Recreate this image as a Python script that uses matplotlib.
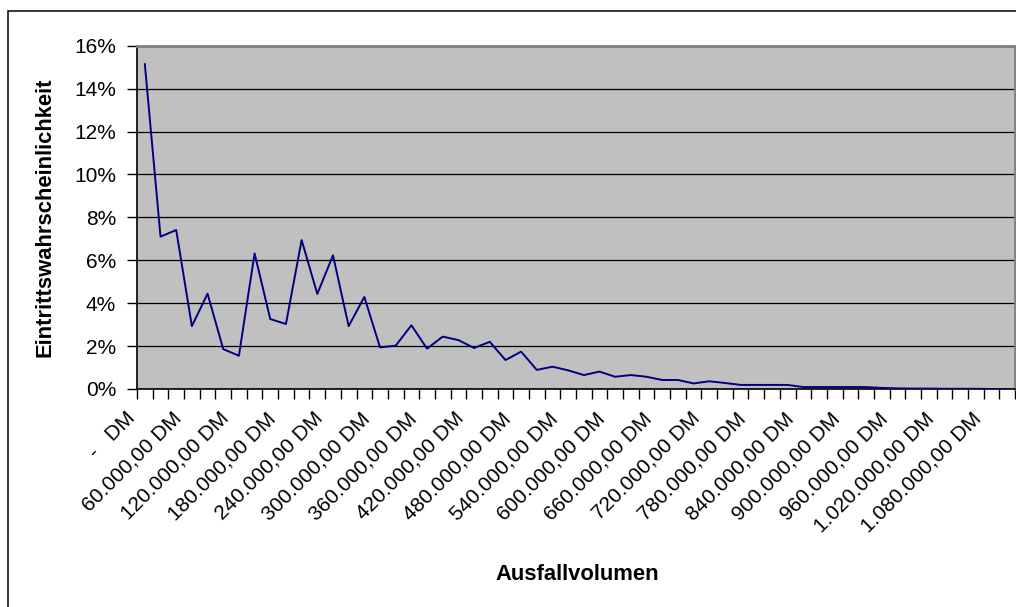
import matplotlib
matplotlib.use("Agg")
import matplotlib.pyplot as plt
from matplotlib.patches import Rectangle
from matplotlib.transforms import ScaledTranslation
import numpy as np

plt.rcParams['font.family'] = ['Liberation Sans', 'DejaVu Sans']

# Ausfallvolumen categories (DM), step 20.000
volumes = [i * 20000 for i in range(56)]
# Eintrittswahrscheinlichkeit in %
probs = [15.14, 7.10, 7.41, 2.93, 4.44, 1.86, 1.55, 6.32, 3.26, 3.03,
         6.94, 4.43, 6.23, 2.93, 4.29, 1.94, 2.02, 2.97, 1.88, 2.44,
         2.28, 1.91, 2.20, 1.35, 1.74, 0.89, 1.04, 0.87, 0.65, 0.81,
         0.57, 0.65, 0.57, 0.42, 0.42, 0.26, 0.36, 0.28, 0.19, 0.19,
         0.19, 0.19, 0.09, 0.09, 0.09, 0.09, 0.09, 0.05, 0.03, 0.02,
         0.02, 0.01, 0.01, 0.01, 0.00, 0.00]
y_ticks = [0, 2, 4, 6, 8, 10, 12, 14, 16]
label_step = 3


def fmt_dm(v):
    if v == 0:
        return "-   DM"
    s = f"{v:,.2f}".replace(",", "X").replace(".", ",").replace("X", ".")
    return s + " DM"


W, H = 1016, 607
fig = plt.figure(figsize=(W / 100, H / 100), dpi=100)
fig.patch.set_facecolor('white')

# outer chart border
fig.patches.append(Rectangle((7.5 / W, -0.02), 1.05, (H - 10.5) / H + 0.02,
                             transform=fig.transFigure, fill=False,
                             edgecolor='black', linewidth=1.1, zorder=0))

ax = fig.add_axes([137 / W, (H - 389) / H, (1015 - 137) / W, (389 - 45.7) / H])
ax.set_facecolor('#C0C0C0')

x = np.arange(len(volumes))
ax.plot(x, probs, color='#000080', linewidth=1.4, zorder=3)

ax.set_xlim(-0.5, len(volumes) - 0.5)
ax.set_ylim(0, 16)

ax.set_yticks(y_ticks)
ax.set_yticklabels([f"{t}%" for t in y_ticks], fontsize=15)
ax.yaxis.grid(True, color='black', linewidth=0.9)
ax.set_axisbelow(True)

major = x[::label_step]
ax.set_xticks(major)
ax.set_xticklabels([fmt_dm(volumes[i]) for i in major], fontsize=15,
                   rotation=45, ha='right', va='center', rotation_mode='anchor')
ax.set_xticks(np.arange(-0.5, len(volumes), 1.0), minor=True)
ax.tick_params(axis='x', which='major', length=0, pad=19)
ax.tick_params(axis='x', which='minor', length=7, width=1, color='black', direction='out')
ax.tick_params(axis='y', which='major', length=7, width=1, color='black', direction='out', pad=8)

for lbl in ax.get_xticklabels():
    lbl.set_transform(lbl.get_transform() + ScaledTranslation(-13 / 100, 0, fig.dpi_scale_trans))

for side in ['top', 'right']:
    ax.spines[side].set_color('#808080')
    ax.spines[side].set_linewidth(2)
for side in ['left', 'bottom']:
    ax.spines[side].set_color('black')
    ax.spines[side].set_linewidth(1.2)

fig.text(45 / W, 1 - 217 / H, 'Eintrittswahrscheinlichkeit', rotation=90,
         ha='center', va='center', fontsize=15.8, fontweight='bold')
fig.text(577 / W, 1 - 574 / H, 'Ausfallvolumen', ha='center', va='center',
         fontsize=15.8, fontweight='bold')

fig.savefig('out.png', dpi=100)
